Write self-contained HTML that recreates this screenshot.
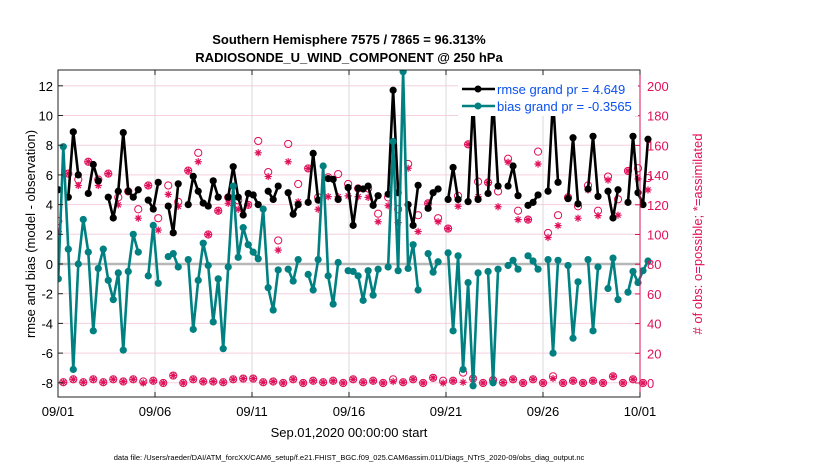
<!DOCTYPE html>
<html><head><meta charset="utf-8"><style>
body{margin:0;background:#fff;}
svg{display:block;font-family:"Liberation Sans",Arial,sans-serif;}
</style></head><body>
<svg id="chart" width="830" height="470" viewBox="0 0 830 470" xmlns="http://www.w3.org/2000/svg">
<text x="349" y="44" text-anchor="middle" font-size="13" font-weight="bold">Southern Hemisphere 7575 / 7865 = 96.313%</text>
<text x="349" y="62" text-anchor="middle" font-size="13" font-weight="bold">RADIOSONDE_U_WIND_COMPONENT @ 250 hPa</text>
<g id="grid"></g>
<g id="marks"></g>
<g id="axes"></g>
<text transform="translate(35,234) rotate(-90)" text-anchor="middle" font-size="13">rmse and bias (model - observation)</text>
<text transform="translate(702,234) rotate(-90)" text-anchor="middle" font-size="13" fill="#e0105a"># of obs: o=possible; *=assimilated</text>
<text x="349" y="437" text-anchor="middle" font-size="13">Sep.01,2020 00:00:00 start</text>
<text x="349" y="460" text-anchor="middle" font-size="7.5">data file: /Users/raeder/DAI/ATM_forcXX/CAM6_setup/f.e21.FHIST_BGC.f09_025.CAM6assim.011/Diags_NTrS_2020-09/obs_diag_output.nc</text>
<g>
<rect x="458" y="76" width="180" height="40" fill="#fff"/>
<line x1="462" y1="89" x2="495" y2="89" stroke="#000" stroke-width="2.5"/>
<circle cx="478" cy="89" r="3.5" fill="#000"/>
<text x="497" y="94" font-size="13" fill="#0a50f0">rmse grand pr = 4.649</text>
<line x1="462" y1="106" x2="495" y2="106" stroke="#008080" stroke-width="2.5"/>
<circle cx="478" cy="106" r="3.5" fill="#008080"/>
<text x="497" y="111" font-size="13" fill="#0a50f0">bias grand pr = -0.3565</text>
</g>
</svg>
<script>
const rmse=[5.0,null,4.5,8.9,6.0,null,4.75,6.7,5.6,null,4.5,3.1,4.9,8.85,4.9,4.5,5.0,null,4.3,3.7,5.5,null,3.9,2.1,5.4,null,4.0,5.9,4.9,4.1,3.9,5.6,4.5,null,4.5,6.55,4.5,3.3,4.75,4.65,4.0,null,4.9,4.35,5.25,null,4.8,3.35,4.0,null,4.15,7.45,4.3,null,5.75,5.7,4.35,null,5.15,2.6,5.1,5.05,5.25,3.95,4.6,null,4.7,11.7,4.8,null,4.0,2.6,5.3,null,3.75,4.8,5.05,null,4.35,6.5,4.35,null,4.2,11.0,4.35,null,4.75,11.1,5.25,null,5.25,6.6,4.6,null,3.95,4.15,4.65,null,4.9,11.1,5.5,null,4.4,8.5,4.05,null,5.05,8.6,4.55,null,4.9,3.1,5.0,null,4.15,8.6,4.8,4.0,8.4];
const bias=[-1.0,7.9,1.0,-7.1,0.0,3.0,0.8,-4.5,-0.3,1.0,-1.1,-2.4,-0.6,-5.8,-0.5,2.0,0.8,null,-0.8,2.6,-1.3,null,0.5,0.7,-0.2,null,0.3,-4.4,-1.1,1.4,-0.1,-3.9,-1.0,-5.7,-0.2,5.25,0.45,2.45,1.3,0.8,0.35,3.7,-1.6,-3.1,-0.4,null,-0.35,-1.15,0.3,null,-0.7,-1.75,0.3,6.6,-0.8,-2.7,0.1,null,-0.45,-0.5,-0.8,-2.45,-0.45,-2.1,-0.35,null,-0.2,8.25,-0.45,12.95,-0.3,1.3,-1.75,null,0.7,-0.55,0.15,null,0.75,-4.5,0.55,-7.1,-1.25,-8.2,-0.6,null,-0.5,-8.0,-0.35,null,-0.1,0.25,-0.35,null,0.55,0.2,-0.35,null,0.3,-6.0,0.25,null,-0.1,-5.0,-1.2,null,0.3,-4.5,-0.2,null,-1.65,0.4,-2.4,null,-1.9,-0.5,-1.25,-0.45,0.2];
const possible=[109,0.5,141,2.5,137,0.5,149,2.5,137,0.5,141,2.5,125,1,129,2.5,117,1,133,1.5,111,0,133,5,122,0,143,2.5,155,1,100,1,116,0.5,125,2.5,123,3,120,3,163,0.5,142,1,96,0,161,2.5,134,0,144.5,1.5,125,0.5,138.5,1.5,140.7,0,134,2.5,131,0.5,131,1.5,114,0,125,2.5,117,0.5,147.5,2.5,113,0,121,3.5,111,1.5,104,1.5,126,7,160.7,3,135.6,0,135,2,129,0.3,151,2.5,116,0,110,2.5,155.8,0,101,4.5,113,0,125,1.5,119,0,133,1.5,116,0,139,4.5,123.7,0,142.8,2.5,144.6,0,138];
const assimilated=[102,0.5,141,2.5,133,0.5,149,2.5,133,0.5,141,2.5,120,1,129,2.5,111,0,133,1.5,103,0,127,5,119,0,143,2.5,149,1,100,1,116,0.5,121,2.5,117,3,120,3,155,0.5,139,1,89.5,0,149,2.5,122,0,144.5,1.5,117,0.5,125.5,1.5,125.5,0,126,2.5,125.5,0.5,125,1.5,108.6,0,119.4,1,108,0.5,144.6,2.5,102,0,121,3.5,108.6,0,104,1.5,119,0.5,160.7,2.5,125.5,0,135,2,118.7,0.3,148.7,2.5,110,0,110,2.5,147.5,0,98,3,106,0,125,1.5,111,0,130,1.5,112.7,0,136.7,4.5,113,0,142.8,2.5,137.4,0,130];
const xTickLabels=["09/01","09/06","09/11","09/16","09/21","09/26","10/01"];
const yTicksLeft=[-8,-6,-4,-2,0,2,4,6,8,10,12];
const yTicksRight=[0,20,40,60,80,100,120,140,160,180,200];

const NS="http://www.w3.org/2000/svg";
const L=58,R=640,T=70,B=397;
const xScale=i=>58.3+i*(R-58.3)/116.4;
const dayScale=d=>L+d*(R-L)/30;
const yL=v=>264-v*14.85;
const yR=v=>383-v*1.485;
function mk(tag,attrs,parent){const e=document.createElementNS(NS,tag);for(const k in attrs)e.setAttribute(k,attrs[k]);parent.appendChild(e);return e;}
const grid=document.getElementById('grid'),marks=document.getElementById('marks'),axes=document.getElementById('axes');
const RED="#e0105a";
yTicksLeft.forEach(v=>{const l=mk('line',{x1:L,x2:R,y1:yL(v),y2:yL(v),stroke:'#f6cfe0','stroke-width':1},grid);

});
xTickLabels.forEach((t,k)=>{const x=dayScale(k*5);const l=mk('line',{x1:x,x2:x,y1:T,y2:B,stroke:'#d8d8d8','stroke-width':1},grid);

});
const z=mk('line',{x1:L,x2:R,y1:yL(0),y2:yL(0),stroke:'#b8b8b8','stroke-width':2.5},grid);


const clip=mk('clipPath',{id:'pc'},marks);mk('rect',{x:L,y:T,width:665-L,height:B-T},clip);
const g=mk('g',{'clip-path':'url(#pc)'},marks);
possible.forEach((v,i)=>{if(v==null)return;const c=mk('circle',{cx:xScale(i),cy:yR(v),r:3.6,fill:'none',stroke:RED,'stroke-width':1},g);

});
assimilated.forEach((v,i)=>{if(v==null)return;const x=xScale(i),y=yR(v),s=3.6;
const p=mk('path',{d:`M${x-s},${y}H${x+s}M${x},${y-s}V${y+s}M${x-s*.7},${y-s*.7}L${x+s*.7},${y+s*.7}M${x-s*.7},${y+s*.7}L${x+s*.7},${y-s*.7}`,stroke:RED,'stroke-width':1.2,fill:'none'},g);

});
function series(arr,color,name){let d='',pen=false;arr.forEach((v,i)=>{if(v==null){pen=false;return;}d+=(pen?'L':'M')+xScale(i)+','+yL(v);pen=true;});
const p=mk('path',{d:d,stroke:color,'stroke-width':2.6,fill:'none','stroke-linejoin':'round'},g);


arr.forEach((v,i)=>{if(v==null)return;const c=mk('circle',{cx:xScale(i),cy:yL(v),r:3.6,fill:color},g);

});}
series(rmse,'#000','rmse');
series(bias,'#008080','bias');
const box=mk('rect',{x:L,y:T,width:R-L,height:B-T,fill:'none',stroke:'#222','stroke-width':1},axes);


yTicksLeft.forEach(v=>{mk('line',{x1:L,x2:L+5,y1:yL(v),y2:yL(v),stroke:'#222'},axes);
const t=mk('text',{x:L-5,y:yL(v)+5,'text-anchor':'end','font-size':13},axes);t.textContent=v;

});
yTicksRight.forEach(v=>{mk('line',{x1:R-5,x2:R,y1:yR(v),y2:yR(v),stroke:RED},axes);
const t=mk('text',{x:R+7,y:yR(v)+5,'font-size':13,fill:RED},axes);t.textContent=v;

});
mk('line',{x1:R,x2:R,y1:T,y2:B,stroke:RED},axes);
xTickLabels.forEach((s,k)=>{const x=dayScale(k*5);mk('line',{x1:x,x2:x,y1:B-5,y2:B,stroke:'#222'},axes);mk('line',{x1:x,x2:x,y1:T,y2:T+5,stroke:'#222'},axes);
const t=mk('text',{x:x,y:B+19,'text-anchor':'middle','font-size':13},axes);t.textContent=s;

});
</script>
</body></html>
